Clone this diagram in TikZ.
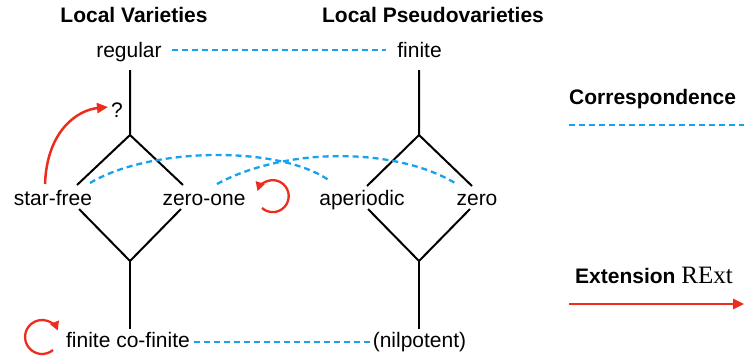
\documentclass[tikz,border=0pt]{standalone}
\usepackage{fontspec}
\setmainfont{Liberation Sans}
\newfontfamily\serifrm{Liberation Serif}
\usetikzlibrary{arrows.meta}
\definecolor{corrblue}{RGB}{22,162,242}
\definecolor{extred}{RGB}{236,44,28}
\begin{document}
\begin{tikzpicture}[x=1pt,y=-1pt,
  lbl/.style={font=\fontsize{21}{25}\selectfont, inner sep=0pt, anchor=base},
  hdr/.style={font=\fontsize{21}{25}\selectfont\bfseries, inner sep=0pt, anchor=base},
  edgeline/.style={line width=2pt, black},
  corr/.style={line width=2.3pt, color=corrblue, dash pattern=on 6pt off 4pt},
  ext/.style={line width=2.5pt, color=extred, -{Triangle[length=11pt,width=10pt]}},
  extloop/.style={line width=2.3pt, color=extred, -{Triangle[length=9pt,width=9pt]}}]
\useasboundingbox (0,0) rectangle (744,360);

% headers
\node[hdr] (hlv) at (134,22) {Local Varieties};
\node[hdr] (hlp) at (433,22) {Local Pseudovarieties};

% left lattice labels
\node[lbl] (regular) at (129,57) {regular};
\node[lbl] (q) at (117,117) {?};
\node[lbl] (starfree) at (53,205) {star-free};
\node[lbl] (zeroone) at (204,205) {zero-one};
\node[lbl] (fcf) at (128,347) {finite co-finite};

% right lattice labels
\node[lbl] (finite) at (419.5,57) {finite};
\node[lbl] (aperiodic) at (362,205) {aperiodic};
\node[lbl] (zero) at (477,205) {zero};
\node[lbl] (nilpotent) at (419.5,347) {(nilpotent)};

% left lattice coordinates
\coordinate (lv1) at (130,70);
\coordinate (ltop) at (130,135);
\coordinate (lul) at (77,185);
\coordinate (lur) at (183,185);
\coordinate (lll) at (79,209);
\coordinate (llr) at (181,209);
\coordinate (lbot) at (130,261);
\coordinate (lv2) at (130,329);

% right lattice coordinates
\coordinate (rv1) at (419,70);
\coordinate (rtop) at (419,135);
\coordinate (rul) at (367,186);
\coordinate (rur) at (472,186);
\coordinate (rll) at (368,209);
\coordinate (rlr) at (470,209);
\coordinate (rbot) at (419,261);
\coordinate (rv2) at (419,329);

\draw[edgeline] (lv1) -- (ltop) -- (lul);
\draw[edgeline] (ltop) -- (lur);
\draw[edgeline] (lll) -- (lbot) -- (llr);
\draw[edgeline] (lbot) -- (lv2);

\draw[edgeline] (rv1) -- (rtop) -- (rul);
\draw[edgeline] (rtop) -- (rur);
\draw[edgeline] (rll) -- (rbot) -- (rlr);
\draw[edgeline] (rbot) -- (rv2);

% correspondences
\coordinate (c1a) at (172,50);
\coordinate (c1b) at (386,50);
\draw[corr] (c1a) -- (c1b);
\coordinate (c2a) at (194,342);
\coordinate (c2b) at (370,342);
\draw[corr] (c2a) -- (c2b);
\coordinate (sfend) at (90,183);
\coordinate (apend) at (330,181);
\draw[corr] (sfend) .. controls (150,147) and (280,145) .. (apend);
\coordinate (zoend) at (217,184);
\coordinate (zeend) at (455,183);
\draw[corr] (zoend) .. controls (285,147) and (395,147) .. (zeend);

% extensions
\coordinate (sfup) at (45,184);
\coordinate (qtip) at (108,107);
\draw[ext] (sfup) .. controls (47,130) and (78,110) .. (qtip);
\coordinate (zoloop) at (262,208);
\draw[extloop] (zoloop) arc[start angle=132, end angle=-162, radius=16];
\coordinate (fcfloop) at (53,350);
\draw[extloop] (fcfloop) arc[start angle=50, end angle=338, radius=17];

% legend
\node[hdr, anchor=base west] (lcorr) at (569,104) {Correspondence};
\coordinate (lcorra) at (569,125);
\coordinate (lcorrb) at (744,125);
\draw[corr] (lcorra) -- (lcorrb);
\node[hdr, anchor=base west] (lext) at (575,283) {Extension \serifrm\mdseries\fontsize{25}{28}\selectfont RExt};
\coordinate (lexta) at (569,304);
\coordinate (lextb) at (744,304);
\draw[ext] (lexta) -- (lextb);
\end{tikzpicture}
\end{document}
